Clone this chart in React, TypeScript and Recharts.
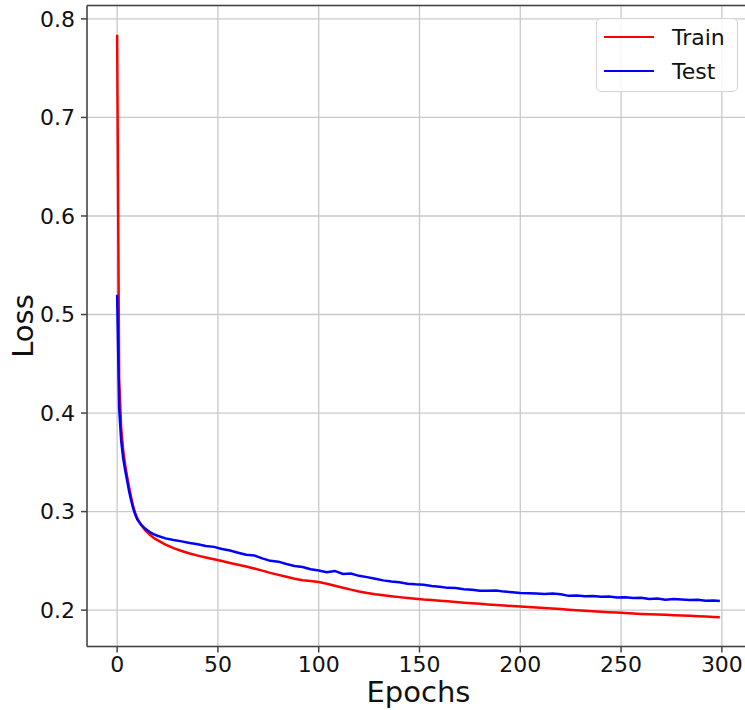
import {
  LineChart, Line, XAxis, YAxis, CartesianGrid, Legend, ReferenceLine,
} from 'recharts'

const epochs = [
  0, 1, 2, 3, 4, 5, 6, 7, 8, 9, 10, 12, 14, 16, 18, 20,
  24, 28, 32, 36, 40, 44, 48, 52, 56, 60, 64, 68, 72, 76, 80, 84, 88, 92, 96, 100,
  104, 108, 112, 116, 120, 124, 128, 132, 136, 140, 144, 148, 152, 156, 160, 164, 168, 172, 176, 180,
  184, 188, 192, 196, 200, 204, 208, 212, 216, 220, 224, 228, 232, 236, 240, 244, 248, 252, 256, 260,
  264, 268, 272, 276, 280, 284, 288, 292, 296, 299,
]

const trainLoss = [
  0.784, 0.435, 0.385, 0.362, 0.347, 0.335, 0.324, 0.314, 0.305, 0.298, 0.293, 0.286, 0.281, 0.277, 0.2735, 0.271,
  0.2665, 0.263, 0.26, 0.2575, 0.2553, 0.2535, 0.2517, 0.2498, 0.2478, 0.246, 0.2442, 0.2422, 0.2401, 0.2378, 0.2358, 0.2338, 0.2319, 0.2304, 0.2295, 0.2285,
  0.2267, 0.2248, 0.2228, 0.2208, 0.219, 0.2175, 0.2162, 0.2151, 0.2141, 0.2132, 0.2124, 0.2116, 0.2108, 0.2102, 0.2096, 0.2089, 0.2082, 0.2076, 0.207, 0.2064,
  0.2058, 0.2052, 0.2047, 0.2041, 0.2036, 0.2031, 0.2026, 0.2021, 0.2017, 0.2011, 0.2005, 0.1999, 0.1994, 0.1989, 0.1984, 0.1979, 0.1975, 0.1971, 0.1967, 0.1962,
  0.1958, 0.1955, 0.1952, 0.1949, 0.1946, 0.1943, 0.1939, 0.1935, 0.193, 0.1927,
]

const testLoss = [
  0.52, 0.405, 0.372, 0.354, 0.342, 0.331, 0.32, 0.311, 0.303, 0.297, 0.292, 0.2865, 0.2825, 0.2795, 0.2772, 0.2755,
  0.2728, 0.2712, 0.2698, 0.2682, 0.2668, 0.265, 0.2642, 0.262, 0.2605, 0.2583, 0.2562, 0.2555, 0.2525, 0.25, 0.2492, 0.2468, 0.2448, 0.2438, 0.2415, 0.2403,
  0.2384, 0.2398, 0.2368, 0.2372, 0.2348, 0.2335, 0.2318, 0.2302, 0.229, 0.2282, 0.2268, 0.2262, 0.2258, 0.2245, 0.2238, 0.2226, 0.2224, 0.2212, 0.2206, 0.2198,
  0.2196, 0.22, 0.2188, 0.2182, 0.2174, 0.2172, 0.2168, 0.2165, 0.2168, 0.2162, 0.2145, 0.2148, 0.214, 0.2143, 0.2135, 0.2138, 0.2128, 0.213, 0.2122, 0.2126,
  0.2112, 0.2118, 0.2106, 0.2112, 0.2108, 0.2102, 0.2106, 0.2095, 0.2098, 0.2092,
]

const seriesOrder = ['Train', 'Test']
const xTicks = [0, 50, 100, 150, 200, 250, 300]
const yTicks = [0.2, 0.3, 0.4, 0.5, 0.6, 0.7, 0.8]

const X_DOMAIN: [number, number] = [-14.95, 313.95]
const Y_DOMAIN: [number, number] = [0.1631, 0.8136]

const data = epochs.map((epoch, i) => ({
  epoch,
  train: trainLoss[i],
  test: testLoss[i],
}))

const FONT = '"DejaVu Sans", sans-serif'
const tickStyle = { fontSize: 22, fill: '#111', fontFamily: FONT }

function LegendBox({ payload }: any) {
  const items = [...(payload || [])].sort(
    (a: any, b: any) => seriesOrder.indexOf(a.value) - seriesOrder.indexOf(b.value),
  )
  return (
    <div
      style={{
        boxSizing: 'border-box',
        width: 142,
        height: 74,
        border: '1.5px solid #d4d4d4',
        borderRadius: 5,
        background: 'rgba(255,255,255,0.85)',
        padding: '1px 0 0 7px',
        fontFamily: FONT,
        fontSize: 22,
        color: '#111',
      }}
    >
      {items.map((entry: any) => (
        <div key={entry.value} style={{ display: 'flex', alignItems: 'center', height: 34 }}>
          <span style={{ width: 50, height: 2.5, background: entry.color, display: 'inline-block' }} />
          <span style={{ marginLeft: 18 }}>{entry.value}</span>
        </div>
      ))}
    </div>
  )
}

export default function App() {
  return (
    <div
      style={{
        position: 'fixed', left: 0, top: 0, width: 745, height: 710,
        overflow: 'hidden', background: '#fff',
      }}
    >
      <LineChart
        width={762}
        height={710}
        data={data}
        margin={{ top: 5.5, right: 12, left: 0, bottom: 0 }}
      >
        <CartesianGrid stroke="#c9c9c9" strokeWidth={1.3} />
        <XAxis
          dataKey="epoch"
          type="number"
          domain={X_DOMAIN}
          allowDataOverflow
          ticks={xTicks}
          tick={tickStyle}
          tickSize={6}
          tickMargin={4}
          height={63.5}
          stroke="#444"
          strokeWidth={1.5}
          label={{ value: 'Epochs', position: 'insideBottom', offset: 8, fontSize: 29, fill: '#111', fontFamily: FONT }}
        />
        <YAxis
          type="number"
          domain={Y_DOMAIN}
          allowDataOverflow
          ticks={yTicks}
          tickFormatter={(v: number) => v.toFixed(1)}
          tick={tickStyle}
          tickSize={6}
          tickMargin={6}
          width={87}
          stroke="#444"
          strokeWidth={1.5}
          label={{ value: 'Loss', angle: -90, position: 'center', dx: -21, fontSize: 29, fill: '#111', fontFamily: FONT }}
        />
        <ReferenceLine y={Y_DOMAIN[1]} stroke="#444" strokeWidth={1.5} />
        <Legend
          layout="vertical"
          align="center"
          verticalAlign="middle"
          wrapperStyle={{ left: 596, top: 18, width: 142, height: 74 }}
          content={<LegendBox />}
        />
        <Line
          type="linear"
          dataKey="train"
          name="Train"
          stroke="#ff0000"
          strokeWidth={2.5}
          dot={false}
          isAnimationActive={false}
        />
        <Line
          type="linear"
          dataKey="test"
          name="Test"
          stroke="#0000ff"
          strokeWidth={2.5}
          dot={false}
          isAnimationActive={false}
        />
      </LineChart>
    </div>
  )
}
